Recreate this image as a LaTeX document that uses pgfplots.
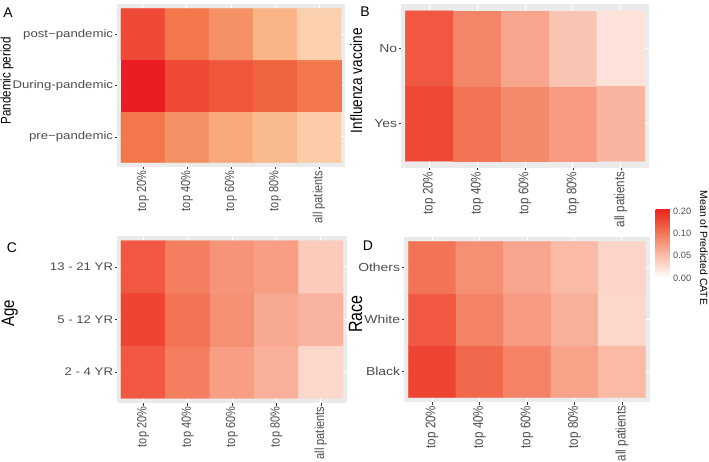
\documentclass[border=0pt]{standalone}
\usepackage{pgfplots}
\usepackage{pgfplotstable}
\pgfplotsset{compat=1.18}
\usepackage{fontspec}
\setmainfont{Liberation Sans}
\definecolor{bg}{HTML}{EBEBEB}
\definecolor{txt}{HTML}{4D4D4D}
\definecolor{tk}{HTML}{333333}
\newcommand{\tkf}{\fontsize{11}{13}\selectfont}
\newcommand{\tkfb}{\fontsize{11.6}{13}\selectfont}
\pgfplotsset{
 colormap={cateA}{rgb255(0cm)=(255,245,230); rgb255(0.18cm)=(255,240,220); rgb255(1.18cm)=(250,180,135); rgb255(2.18cm)=(241,112,68); rgb255(3.18cm)=(236,28,36); rgb255(3.27cm)=(236,26,34)},
 colormap={cate}{rgb255(0cm)=(255,255,255); rgb255(0.18cm)=(255,255,255); rgb255(1.18cm)=(250,190,170); rgb255(2.18cm)=(243,120,88); rgb255(3.18cm)=(237,40,30); rgb255(3.27cm)=(237,34,30)},
 hm/.style={
  scale only axis, enlargelimits=false,
  axis background/.style={fill=bg},
  axis line style={draw=none},
  xmin=-0.59, xmax=4.59,
  xtick={0,1,2,3,4},
  xticklabels={top 20\%,top 40\%,top 60\%,top 80\%,all patients},
  grid=major, major grid style={draw=white, line width=1pt},
  tick pos=left, tick align=outside, major tick length=2.5pt,
  every tick/.style={draw=tk, line width=0.5pt},
  xticklabel style={font=\tkf, text=txt, xscale=1.2, rotate=90, anchor=east, inner sep=1pt},
  yticklabel style={font=\tkf, text=txt, xscale=1.2, inner sep=1pt},
  point meta min=-0.18, point meta max=3.09,
  colormap name=cate,
 },
 cell/.style={matrix plot*, mesh/cols=5,
  point meta={min(\thisrow{v},0.05)/0.05+max(min(\thisrow{v},0.1)-0.05,0)/0.05+max(\thisrow{v}-0.1,0)/0.1}},
}
\begin{document}
% Panel A: rows 0 pre, 1 During, 2 post
\pgfplotstableread{
x y v
0 0 0.095
1 0 0.075
2 0 0.0575
3 0 0.045
4 0 0.03
0 1 0.20
1 1 0.145
2 1 0.13
3 1 0.115
4 1 0.095
0 2 0.145
1 2 0.095
2 2 0.075
3 2 0.05
4 2 0.0275
}\tabA
% Panel B: rows 0 Yes, 1 No
\pgfplotstableread{
x y v
0 0 0.16
1 0 0.105
2 0 0.0875
3 0 0.075
4 0 0.0575
0 1 0.14
1 1 0.09
2 1 0.0675
3 1 0.045
4 1 0.0225
}\tabB
% Panel C: rows 0 2-4, 1 5-12, 2 13-21
\pgfplotstableread{
x y v
0 0 0.14
1 0 0.095
2 0 0.0725
3 0 0.06
4 0 0.03
0 1 0.165
1 1 0.105
2 1 0.0825
3 1 0.065
4 1 0.0575
0 2 0.14
1 2 0.095
2 2 0.08
3 2 0.0725
4 2 0.04
}\tabC
% Panel D: rows 0 Black, 1 White, 2 Others
\pgfplotstableread{
x y v
0 0 0.165
1 0 0.12
2 0 0.0925
3 0 0.07
4 0 0.0525
0 1 0.14
1 1 0.0925
2 1 0.075
3 1 0.06
4 1 0.03
0 2 0.105
1 2 0.0825
2 2 0.0675
3 2 0.0525
4 2 0.0325
}\tabD
\begin{tikzpicture}[x=1pt,y=1pt]
\useasboundingbox (0,0) rectangle (709,461);
% A
\begin{axis}[hm, at={(117pt,294pt)}, anchor=south west, width=228pt, height=163pt,
  colormap name=cateA,
  ymin=-0.59, ymax=2.59, ytick={0,1,2},
  yticklabels={pre−pandemic,During-pandemic,post−pandemic}]
\addplot[cell] table[x=x,y=y] {\tabA};
\end{axis}
% B
\begin{axis}[hm, at={(401pt,293pt)}, anchor=south west, width=248pt, height=164pt,
  xticklabel style={font=\tkfb}, yticklabel style={font=\tkfb},
  ymin=-0.59, ymax=1.59, ytick={0,1},
  yticklabels={Yes,No},
  colorbar, colorbar style={at={(parent axis.south east)}, anchor=north west,
   xshift=-2pt, yshift=-41pt, scale only axis, width=15pt, height=73pt,
   ytick={0,1,2,3}, yticklabels={0.00,0.05,0.10,0.20},
   major tick length=0pt, axis line style={draw=none},
   every tick/.style={draw=none},
   yticklabel style={font=\fontsize{9.2}{11}\selectfont, text=txt, inner sep=2.5pt}}]
\addplot[cell] table[x=x,y=y] {\tabB};
\end{axis}
% C
\begin{axis}[hm, at={(117pt,58pt)}, anchor=south west, width=230pt, height=167pt,
  ymin=-0.59, ymax=2.59, ytick={0,1,2},
  yticklabels={2 - 4 YR,5 - 12 YR,13 - 21 YR}]
\addplot[cell] table[x=x,y=y] {\tabC};
\end{axis}
% D
\begin{axis}[hm, at={(404pt,59pt)}, anchor=south west, width=246pt, height=165pt,
  xticklabel style={font=\tkfb}, yticklabel style={font=\tkfb},
  ymin=-0.59, ymax=2.59, ytick={0,1,2},
  yticklabels={Black,White,Others}]
\addplot[cell] table[x=x,y=y] {\tabD};
\end{axis}
% axis titles
\node[xscale=1.2, rotate=90, anchor=base, font=\fontsize{11.6}{13}\selectfont] at (10.5,380) {Pandemic period};
\node[xscale=1.2, rotate=90, anchor=base, font=\fontsize{13.6}{15}\selectfont] at (362,380.5) {Influenza vaccine};
\node[xscale=1.2, rotate=90, anchor=base, font=\fontsize{15}{17}\selectfont] at (14,148) {Age};
\node[xscale=1.2, rotate=90, anchor=base, font=\fontsize{16}{18}\selectfont] at (362,147) {Race};
\node[rotate=-90, anchor=base, font=\fontsize{10.4}{12}\selectfont] at (700,213) {Mean of Predicted CATE};
% panel letters
\node[font=\fontsize{14}{16}\selectfont] at (8,448) {A};
\node[font=\fontsize{14}{16}\selectfont] at (365,449) {B};
\node[font=\fontsize{14}{16}\selectfont] at (12,213) {C};
\node[font=\fontsize{14}{16}\selectfont] at (368,215) {D};
\end{tikzpicture}
\end{document}
